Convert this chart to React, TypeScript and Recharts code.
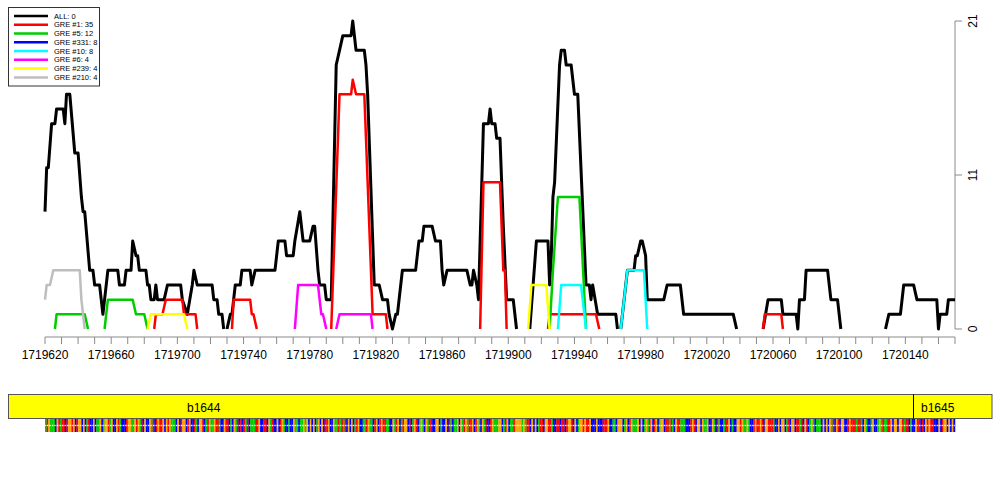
import React from 'react';
import { LineChart, Line, XAxis, YAxis, ReferenceLine } from 'recharts';

const START = 1719620;
const END = 1720170;

// [offset from START, count] ; each inner list is one contiguous segment
const ALL_SEGS: [number, number][][] = [
  [[0,8],[1,11],[2,11],[4,14],[6,14],[7,15],[11,15],[12,14],[13,16],[15,16],[18,12],[20,12],[22,9],[23,8],[24,8],[27,4],[29,4],[30,3],[33,3],[35,1],[36,2],[38,4],[44,4],[45,3],[48,3],[49,4],[52,4],[53,6],[55,5],[56,5],[57,4],[61,4],[62,3],[63,3],[64,2],[66,2],[67,3],[68,2],[72,2],[74,3],[82,3],[83,2],[86,1],[89,3],[90,4],[92,3],[101,3],[102,2],[104,2],[105,1],[107,1],[108,0]],
  [[110,0],[112,1],[113,1],[115,3],[118,3],[119,4],[124,4],[125,3],[127,4],[139,4],[141,6],[145,6],[146,5],[150,5],[151,6],[154,8],[156,6],[160,6],[162,7],[163,7],[165,4],[166,3],[169,3],[170,2],[173,2],[176,18],[178,19],[180,20],[185,20],[186,21],[188,19],[193,19],[194,18],[195,16],[199,3],[202,3],[204,2],[207,2],[208,1],[210,0],[212,1],[213,1],[215,3],[216,4],[224,4],[226,6],[228,6],[229,7],[234,7],[236,6],[239,6],[240,4],[241,3],[243,4],[255,4],[257,3],[258,3],[259,4],[261,3],[262,2],[265,14],[268,14],[269,15],[270,14],[272,14],[273,13],[275,13],[277,7],[279,2],[283,2],[285,0]],
  [[293,0],[297,6],[304,6],[305,3],[306,5],[307,9],[308,10],[311,18],[312,19],[314,19],[315,18],[318,18],[320,16],[322,16],[327,3],[329,3],[330,2],[331,3],[334,1],[345,1],[346,0]],
  [[348,0],[352,4],[356,4],[357,5],[358,5],[360,6],[361,6],[363,5],[364,2],[374,2],[376,3],[384,3],[386,1],[416,1],[418,0]],
  [[434,0],[437,2],[445,2],[446,1],[454,1],[455,0],[456,2],[459,2],[460,4],[473,4],[475,2],[479,2],[481,0]],
  [[508,0],[510,1],[517,1],[519,3],[525,3],[527,2],[539,2],[540,0],[541,1],[545,1],[546,2],[550,2]],
];
const GRE1_SEGS: [number, number][][] = [
  [[66,0],[67,1],[71,1],[73,2],[83,2],[84,1],[91,1],[92,0]],
  [[113,0],[114,2],[124,2],[125,1],[126,1],[128,0]],
  [[173,0],[178,16],[185,16],[186,17],[188,16],[193,16],[198,1],[206,1],[207,0]],
  [[263,0],[265,10],[275,10],[277,4],[278,4],[279,0]],
  [[304,0],[305,1],[333,1],[335,0]],
  [[434,0],[435,1],[445,1],[446,0]],
];
const GRE5_SEGS: [number, number][][] = [
  [[6,0],[7,1],[24,1],[26,0]],
  [[36,0],[38,2],[53,2],[55,1],[60,1],[62,0]],
  [[305,0],[307,4],[310,9],[323,9],[327,0]],
];
const GRE331_SEGS: [number, number][][] = [];
const GRE10_SEGS: [number, number][][] = [
  [[310,0],[312,3],[324,3],[327,0]],
  [[348,0],[352,4],[362,4],[364,0]],
];
const GRE6_SEGS: [number, number][][] = [
  [[151,0],[153,3],[165,3],[167,1],[168,1],[170,0]],
  [[176,0],[178,1],[197,1],[198,0]],
];
const GRE239_SEGS: [number, number][][] = [
  [[62,0],[64,1],[84,1],[86,0]],
  [[292,0],[294,3],[303,3],[305,0]],
];
const GRE210_SEGS: [number, number][][] = [
  [[0,2],[1,3],[3,3],[5,4],[21,4],[22,2],[24,0]],
];

const SERIES_NAMES = ['ALL: 0', 'GRE #1: 35', 'GRE #5: 12', 'GRE #331: 8', 'GRE #10: 8', 'GRE #6: 4', 'GRE #239: 4', 'GRE #210: 4'];
const SERIES_COLORS = ['#000000', '#FF0000', '#00CD00', '#0000FF', '#00FFFF', '#FF00FF', '#FFFF00', '#BEBEBE'];
const SERIES_SEGS = [ALL_SEGS, GRE1_SEGS, GRE5_SEGS, GRE331_SEGS, GRE10_SEGS, GRE6_SEGS, GRE239_SEGS, GRE210_SEGS];

const X_TICKS = [1719620,1719630,1719640,1719650,1719660,1719670,1719680,1719690,1719700,1719710,1719720,1719730,1719740,1719750,1719760,1719770,1719780,1719790,1719800,1719810,1719820,1719830,1719840,1719850,1719860,1719870,1719880,1719890,1719900,1719910,1719920,1719930,1719940,1719950,1719960,1719970,1719980,1719990,1720000,1720010,1720020,1720030,1720040,1720050,1720060,1720070,1720080,1720090,1720100,1720110,1720120,1720130,1720140,1720150,1720160,1720170];
const X_LABELS = [1719620,1719660,1719700,1719740,1719780,1719820,1719860,1719900,1719940,1719980,1720020,1720060,1720100,1720140];
const Y_TICKS = [0, 10.5, 21];

const GENES = [
  { name: 'b1644', labelX: 187 },
  { name: 'b1645', labelX: 921 },
];

const SEQUENCE =
  'ATGAAACGTATTCTGGTGCTGGCGCATCCGCAAGCAGGTAGCCGTACCCT' +
  'GGAAGTGATCGCCGATCTGTTGCGTGAAACGCTGGCTGCCTACGGTCATG' +
  'AAGTTACCGTTCACGATCTCTATCAAATTGCCTTCGATCCGCTGACCACC' +
  'GAACAAGAGCGCGCAGCGCTTGCCGAATATATCGCGCATGCCAATGAACT' +
  'GCTGTTAACCGATGCATGGCTCAGTCAGACGATTCCGGCACCGCTACAAG' +
  'CGATGATTGCTGACGATCCTGAAAGGCATGCAATGGGGAGATTCGCGCAT' +
  'TCGGTTACCTTCTTCTGGTCGCAGGTGTTGCCCGCCCTTTGCCAACGGGC' +
  'AGCTGAAAGCGCAGATGCTGCAGGCTTATACGTTAAACCCTGTCGGCGAA' +
  'GCCGACTACCATTGCACCGGTGAAGACCTGTTGTCGGTTTACCGCGGCAT' +
  'CGGCTTATCGTCAGACAAACGCGCGATCGTCGGCCTGTTTATTACGACCA' +
  'GCCAGATAATTGCGGCGGTATTCACCGTTCTCGTGTTCCCGCTGGCGCGC';
const BASE_COLORS: Record<string, string> = { A: '#00CD00', C: '#0000FF', G: '#FFA500', T: '#FF0000' };

const FONT = 'Liberation Sans, Arial, Helvetica, sans-serif';
const AXIS_COLOR = '#8a8a8a';

function toData(segs: [number, number][][]) {
  const out: { x: number; y: number | null }[] = [];
  segs.forEach((seg, i) => {
    if (i > 0) {
      const prev = segs[i - 1];
      out.push({ x: START + (prev[prev.length - 1][0] + seg[0][0]) / 2, y: null });
    }
    seg.forEach(([o, v]) => out.push({ x: START + o, y: v }));
  });
  return out;
}

const XTick = (props: any) => {
  const { x, y, payload } = props;
  if (!X_LABELS.includes(payload.value)) return <g />;
  return (
    <text x={x} y={y + 13.3} textAnchor="middle" fontSize={12} fontFamily={FONT} fill="#000">
      {payload.value}
    </text>
  );
};

const YTick = (props: any) => {
  const { x, y, payload } = props;
  const tx = x + 13;
  return (
    <text x={tx} y={y} transform={`rotate(-90 ${tx} ${y})`} textAnchor="middle" fontSize={12} fontFamily={FONT} fill="#000">
      {Math.round(payload.value)}
    </text>
  );
};

export default function App() {
  const seq = SEQUENCE.slice(0, END - START);
  const stripX0 = 45;
  const stripW = 910;
  const cw = stripW / seq.length;
  return (
    <div style={{ position: 'absolute', left: 0, top: 0, width: 1000, height: 500, background: '#fff', fontFamily: FONT }}>
      <div style={{ position: 'absolute', left: 0, top: 0 }}>
        <LineChart width={1000} height={380} margin={{ top: 21, right: 0, bottom: 0, left: 45 }}>
          <XAxis
            type="number"
            dataKey="x"
            domain={[START, END]}
            ticks={X_TICKS}
            interval={0}
            tickSize={7}
            height={43}
            stroke={AXIS_COLOR}
            tick={XTick}
          />
          <YAxis
            orientation="right"
            type="number"
            dataKey="y"
            domain={[-0.5455, 21]}
            ticks={Y_TICKS}
            interval={0}
            width={45}
            tickSize={7}
            axisLine={false}
            tickLine={{ stroke: AXIS_COLOR }}
            tick={YTick}
          />
          <ReferenceLine
            segment={[{ x: END, y: 0 }, { x: END, y: 21 }]}
            stroke={AXIS_COLOR}
            strokeWidth={1}
            ifOverflow="visible"
          />
          {SERIES_NAMES.map((name, i) => (
            <Line
              key={name}
              name={name}
              data={toData(SERIES_SEGS[i])}
              dataKey="y"
              type="linear"
              stroke={SERIES_COLORS[i]}
              strokeWidth={i === 0 ? 3 : 2.5}
              strokeLinejoin="round"
              dot={false}
              activeDot={false}
              connectNulls={false}
              isAnimationActive={false}
            />
          ))}
        </LineChart>
      </div>
      <svg width={1000} height={500} style={{ position: 'absolute', left: 0, top: 0, pointerEvents: 'none' }}>
        {/* legend */}
        <rect x={8.5} y={7.5} width={91} height={78.5} fill="#fff" stroke="#333" strokeWidth={1} />
        {SERIES_NAMES.map((name, i) => {
          const cy = 16 + i * 8.77;
          return (
            <g key={name}>
              <line x1={14} x2={48} y1={cy} y2={cy} stroke={SERIES_COLORS[i]} strokeWidth={2.5} />
              <text x={54} y={cy + 2.6} fontSize={7.5} fontFamily={FONT} fill="#000">{name}</text>
            </g>
          );
        })}
        {/* gene band */}
        <rect x={8.5} y={394.5} width={983.5} height={24} fill="#FFFF00" stroke="#555" strokeWidth={1} />
        <line x1={913.5} x2={913.5} y1={394.5} y2={418.5} stroke="#000" strokeWidth={1} />
        {GENES.map((g) => (
          <text key={g.name} x={g.labelX} y={411.5} fontSize={12} fontFamily={FONT} fill="#000">{g.name}</text>
        ))}
        {/* sequence strip */}
        {seq.split('').map((b, i) => (
          <g key={i}>
            <rect x={stripX0 + i * cw} y={419} width={cw + 0.25} height={13} fill={BASE_COLORS[b]} />
            <rect x={stripX0 + i * cw + cw * 0.2} y={424.8} width={cw * 0.6} height={1.4} fill="#fff" />
          </g>
        ))}
      </svg>
    </div>
  );
}
